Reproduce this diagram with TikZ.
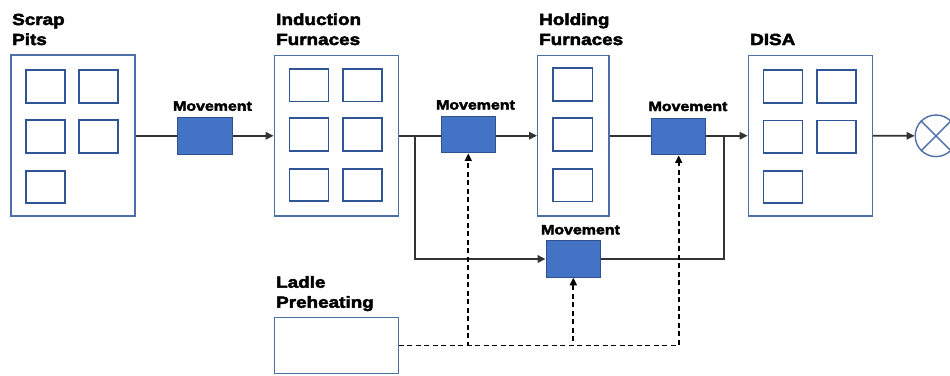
\documentclass[tikz,border=0pt]{standalone}
\usepackage{fontspec}
\newfontfamily\labfont[FakeStretch=1.18, BoldFeatures={FakeBold=3}]{Liberation Sans}
\usetikzlibrary{arrows.meta}
\definecolor{framecol}{HTML}{4E6FA6}
\definecolor{cellcol}{HTML}{2F5597}
\definecolor{movefill}{HTML}{4472C4}
\definecolor{moveedge}{HTML}{2F528F}
\definecolor{linecol}{HTML}{333333}
\tikzset{
  stage/.style={draw=framecol, line width=1.3pt, fill=white, inner sep=0pt, minimum width=#1},
  stage/.default=124pt,
  cell/.style={draw=cellcol, line width=1.6pt, inner sep=0pt, minimum width=39pt, minimum height=32.5pt},
  mover/.style={draw=moveedge, line width=1pt, fill=movefill, inner sep=0pt, minimum width=54.5pt, minimum height=36.5pt},
  title/.style={anchor=base west, inner sep=0pt, font=\labfont\bfseries\fontsize{16}{20}\selectfont},
  movetext/.style={anchor=base, inner sep=0pt, font=\labfont\bfseries\fontsize{13.5}{16}\selectfont},
  flow/.style={draw=linecol, line width=1.6pt},
  tip/.style={-{Triangle[length=8pt,width=7.5pt]}},
  feed/.style={draw=black, line width=1.7pt, dash pattern=on 5pt off 3.5pt, -{Triangle[length=7.5pt,width=7pt]}},
}
\begin{document}
\begin{tikzpicture}[x=1pt,y=-1pt]
\useasboundingbox (0,0) rectangle (950,375);
\clip (0,0) rectangle (950,375);

% ---- process stages ----
\node[stage, minimum height=161pt] (scrap) at (73,135.5) {};
\node[stage, minimum height=160.3pt] (induction) at (336.3,135.8) {};
\node[stage=71.3pt, minimum height=160.3pt] (holding) at (573.3,135.8) {};
\node[stage, minimum height=160.3pt] (disa) at (810.3,135.8) {};
\node[stage, minimum height=56.2pt] (ladle) at (336.3,345.4) {};

% ---- units inside each stage ----
\foreach \x/\y [count=\i] in {45.5/86.5, 98.5/86.5, 45.5/136.5, 98.5/136.5, 45.5/187}
  \node[cell] (scrapcell\i) at (\x,\y) {};
\foreach \x/\y [count=\i] in {308.8/85.3, 362.5/85.3, 308.8/134.5, 362.5/134.5, 308.8/185, 362.5/185}
  \node[cell] (inductioncell\i) at (\x,\y) {};
\foreach \y [count=\i] in {84.5, 134.5, 185.2}
  \node[cell, minimum width=39.6pt] (holdingcell\i) at (572.5,\y) {};
\foreach \x/\y [count=\i] in {783/86.5, 836.7/86.5, 783/136.7, 836.7/136.7, 783/187}
  \node[cell] (disacell\i) at (\x,\y) {};

% ---- stage titles ----
\node[title] (scrapA) at (12,25) {Scrap};
\node[title] (scrapB) at (12,45) {Pits};
\node[title] (inductionA) at (276,25) {Induction};
\node[title] (inductionB) at (276,45) {Furnaces};
\node[title] (holdingA) at (539,25) {Holding};
\node[title] (holdingB) at (539,45) {Furnaces};
\node[title] (disaA) at (750,45) {DISA};
\node[title] (ladleA) at (276,287.7) {Ladle};
\node[title] (ladleB) at (276,307.7) {Preheating};

% ---- movement steps ----
\node[mover] (m1) at (205,135.8) {};
\node[mover] (m2) at (468.3,134.7) {};
\node[mover] (m3) at (678.7,136.7) {};
\node[mover] (m4) at (573.3,259) {};
\node[movetext] (m1t) at (212.5,110.7) {Movement};
\node[movetext] (m2t) at (475.5,109.5) {Movement};
\node[movetext] (m3t) at (688,111) {Movement};
\node[movetext] (m4t) at (580.5,234.3) {Movement};

% ---- output ----
\node[circle, draw=framecol, line width=1.4pt, minimum size=41.6pt, inner sep=0pt] (out) at (936,135.8) {};
\draw[draw=framecol, line width=1.4pt] (out.north west) -- (out.south east) (out.north east) -- (out.south west);

% ---- junctions ----
\coordinate (split) at (415,135.7);
\coordinate (merge) at (724,135.7);

% ---- material flow ----
\draw[flow] (scrap.east |- m1.west) -- (m1.west);
\draw[flow, tip] (m1.east) -- (induction.west |- m1.east);
\draw[flow] (induction.east |- split) -- (m2.west |- split);
\draw[flow, tip] (m2.east |- split) -- (holding.west |- split);
\draw[flow, tip] (split) |- (m4.west);
\draw[flow] (holding.east |- split) -- (m3.west |- split);
\draw[flow, tip] (m3.east |- split) -- (disa.west |- split);
\draw[flow] (m4.east) -| (merge);
\draw[flow, tip] (disa.east |- split) -- (out.west);

% ---- ladle supply ----
\draw[feed] (ladle.east) -| (m2.south);
\draw[feed] (ladle.east) -| (m4.south);
\draw[feed] (ladle.east) -| (m3.south);
\end{tikzpicture}
\end{document}
